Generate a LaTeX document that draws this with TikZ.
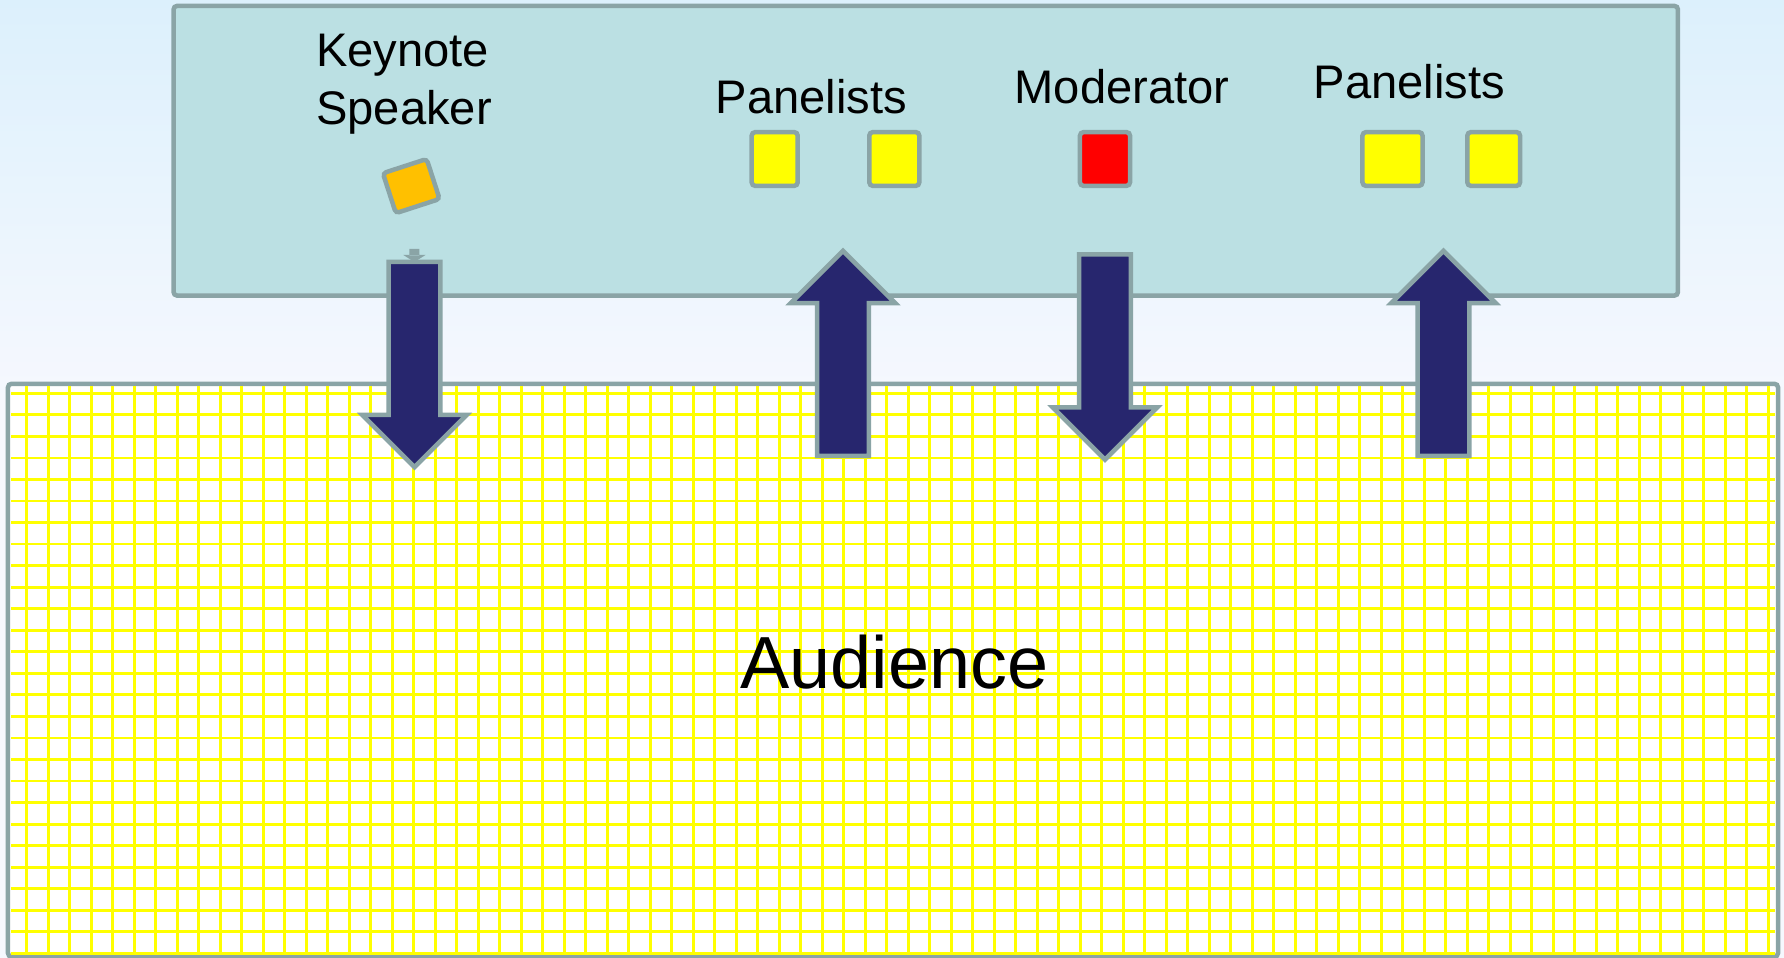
\documentclass[tikz,border=0pt]{standalone}
\usepackage{fontspec}
\setmainfont{Liberation Sans}
\usepackage{tikz}
\usetikzlibrary{shapes.arrows, positioning}

\definecolor{bgtop}{RGB}{220,240,252}
\definecolor{bgbot}{RGB}{246,248,254}
\definecolor{stagebg}{RGB}{187,224,227}
\definecolor{edgegray}{RGB}{138,164,166}
\definecolor{navy}{RGB}{39,38,110}
\definecolor{keyorange}{RGB}{255,192,0}
\definecolor{gridyellow}{RGB}{255,255,0}

\begin{document}
\begin{tikzpicture}[
    x = 0.01cm, y = -0.01cm,
    line width = 1.28pt,
    box/.style = {rectangle, draw = edgegray, inner sep = 0pt, outer sep = 0pt, rounded corners = 1pt},
    seat/.style = {box, minimum height = 0.537cm},
    flow/.style = {single arrow, draw = edgegray, fill = navy, inner xsep = 0pt, inner ysep = 0.235cm, outer sep = 0pt,
                   minimum width = 1.0cm, minimum height = 2.05cm,
                   single arrow head extend = 0.265cm, single arrow tip angle = 90},
    role/.style = {font = \fontsize{13.4}{16.6}\selectfont, inner sep = 0pt, anchor = base},
    gridline/.style = {draw = gridyellow, line width = 0.8pt}
]

\useasboundingbox (0,0) rectangle (1784,958);
\fill[top color = bgtop, bottom color = bgbot] (0,0) rectangle (1784,400);
\fill[bgbot] (0,399) rectangle (1784,958);

% Audience area
\node[box, fill = white, minimum width = 17.69cm, minimum height = 5.725cm] (aud) at (893,670.25) {};
\foreach \i in {0,...,81}
    \draw[gridline] ({26.7+21.5*\i},386.5) -- ({26.7+21.5*\i},954);
\foreach \j in {0,...,26}
    \draw[gridline] (11,{393.3+21.54*\j}) -- (1775,{393.3+21.54*\j});

% Stage
\node[box, fill = stagebg, minimum width = 15.035cm, minimum height = 2.895cm] (stage) at (925.75,150.75) {};

% Seats
\node[box, fill = keyorange, minimum width = 0.46cm, minimum height = 0.42cm, rotate = 18] (key) at (411.25,186.1) {};
\node[seat, fill = gridyellow, minimum width = 0.46cm]  (pan1) at (774.7,159) {};
\node[seat, fill = gridyellow, minimum width = 0.50cm]  (pan2) at (894.3,159) {};
\node[seat, fill = red,        minimum width = 0.50cm]  (mod)  at (1105,159)  {};
\node[seat, fill = gridyellow, minimum width = 0.60cm]  (pan3) at (1392.5,159) {};
\node[seat, fill = gridyellow, minimum width = 0.527cm] (pan4) at (1493.7,159) {};

% Arrows
\node[flow, rotate = -90, anchor = tail] (keydown) at (414.5,262)  {};
\node[flow, rotate = 90,  anchor = tail] (panup)   at (843,456)    {};
\node[flow, rotate = -90, anchor = tail] (moddown) at (1105,254.5) {};
\node[flow, rotate = 90,  anchor = tail] (panup2)  at (1443.5,456) {};
\fill[edgegray] (409.3,249) rectangle (419.3,255.5)
    (403.3,255) -- (425.5,255) -- (414.4,262) -- cycle;

% Labels
\node[role, anchor = base west, align = left] (keylbl) at (314,125) {Keynote\\Speaker};
\node[role] (panlbl)  at (811.5,113.3) {Panelists};
\node[role] (modlbl)  at (1122,104)    {Moderator};
\node[role] (panlbl2) at (1409.5,98.3) {Panelists};
\node[role, font = \fontsize{21}{25}\selectfont] (audlbl) at (894.5,688.3) {Audience};

\end{tikzpicture}
\end{document}
